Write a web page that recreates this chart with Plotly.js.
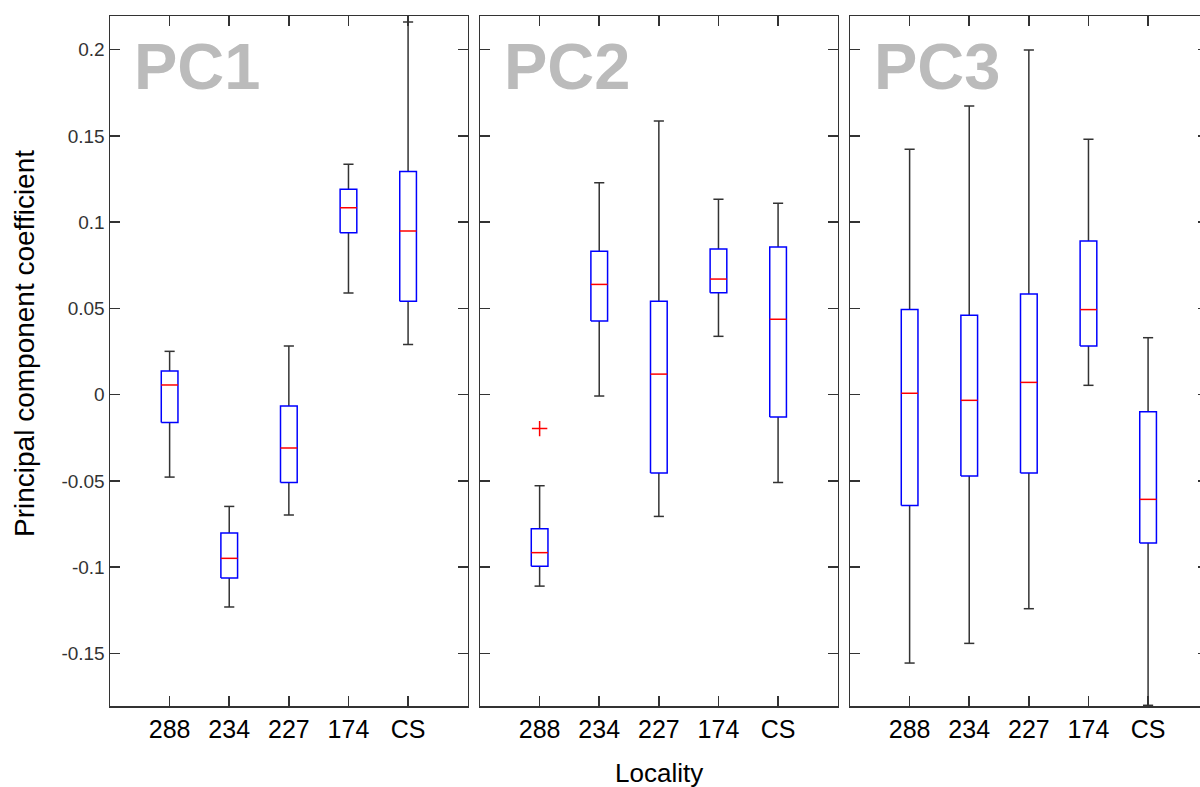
<!DOCTYPE html>
<html>
<head>
<meta charset="utf-8">
<script src="https://cdn.plot.ly/plotly-3.0.1.min.js"></script>
<style>
html, body { margin: 0; padding: 0; overflow: hidden; background: #fff; width: 1200px; height: 787px; }
#chart { width: 1220px; height: 787px; }
</style>
</head>
<body>
<div id="chart"></div>
<script>
// ---- data ----
const categories = ['288', '234', '227', '174', 'CS'];
const panelNames = ['PC1', 'PC2', 'PC3'];

const pc1Upper  = [0.0251, -0.0648, 0.0282, 0.1335, 0.2160];
const pc1Q3     = [0.0137, -0.0802, -0.0066, 0.1190, 0.1294];
const pc1Median = [0.0056, -0.0949, -0.0310, 0.1084, 0.0948];
const pc1Q1     = [-0.0162, -0.1063, -0.0510, 0.0939, 0.0541];
const pc1Lower  = [-0.0478, -0.1231, -0.0698, 0.0589, 0.0290];
const pc1OutCat = [];
const pc1OutVal = [];

const pc2Upper  = [-0.0528, 0.1229, 0.1586, 0.1132, 0.1109];
const pc2Q3     = [-0.0777, 0.0831, 0.0541, 0.0844, 0.0856];
const pc2Median = [-0.0916, 0.0639, 0.0119, 0.0670, 0.0437];
const pc2Q1     = [-0.0995, 0.0427, -0.0454, 0.0591, -0.0130];
const pc2Lower  = [-0.1110, -0.0008, -0.0706, 0.0338, -0.0510];
const pc2OutCat = ['288'];
const pc2OutVal = [-0.0197];

const pc3Upper  = [0.1422, 0.1673, 0.1998, 0.1480, 0.0330];
const pc3Q3     = [0.0493, 0.0460, 0.0583, 0.0890, -0.0099];
const pc3Median = [0.0008, -0.0033, 0.0071, 0.0493, -0.0607];
const pc3Q1     = [-0.0642, -0.0472, -0.0454, 0.0282, -0.0860];
const pc3Lower  = [-0.1556, -0.1442, -0.1241, 0.0054, -0.1801];
const pc3OutCat = [];
const pc3OutVal = [];

const yTickVals = [-0.15, -0.1, -0.05, 0, 0.05, 0.1, 0.15, 0.2];
const yTickText = ['-0.15', '-0.1', '-0.05', '0', '0.05', '0.1', '0.15', '0.2'];

const panels = [
  {up: pc1Upper, q3: pc1Q3, med: pc1Median, q1: pc1Q1, lo: pc1Lower, oc: pc1OutCat, ov: pc1OutVal},
  {up: pc2Upper, q3: pc2Q3, med: pc2Median, q1: pc2Q1, lo: pc2Lower, oc: pc2OutCat, ov: pc2OutVal},
  {up: pc3Upper, q3: pc3Q3, med: pc3Median, q1: pc3Q1, lo: pc3Lower, oc: pc3OutCat, ov: pc3OutVal}
];

// ---- styles ----
const BOX_HALF = 0.14;
const CAP_HALF = 0.085;
const whiskerColor = '#333333';
const boxColor = '#0000ff';
const medianColor = '#ff0000';

const traces = [];
panels.forEach((p, k) => {
  const xa = k === 0 ? 'x' : 'x' + (k + 1);
  const ya = k === 0 ? 'y' : 'y' + (k + 1);
  const wx = [], wy = [], bx = [], by = [], mx = [], my = [];
  categories.forEach((c, i) => {
    const pos = i + 1;
    // whiskers
    wx.push(pos, pos, null, pos, pos, null);
    wy.push(p.q3[i], p.up[i], null, p.q1[i], p.lo[i], null);
    // caps
    wx.push(pos - CAP_HALF, pos + CAP_HALF, null, pos - CAP_HALF, pos + CAP_HALF, null);
    wy.push(p.up[i], p.up[i], null, p.lo[i], p.lo[i], null);
    // box
    bx.push(pos - BOX_HALF, pos + BOX_HALF, pos + BOX_HALF, pos - BOX_HALF, pos - BOX_HALF, null);
    by.push(p.q1[i], p.q1[i], p.q3[i], p.q3[i], p.q1[i], null);
    // median
    mx.push(pos - BOX_HALF, pos + BOX_HALF, null);
    my.push(p.med[i], p.med[i], null);
  });
  const common = {type: 'scatter', mode: 'lines', xaxis: xa, yaxis: ya, hoverinfo: 'skip', showlegend: false, connectgaps: false};
  traces.push(Object.assign({}, common, {x: wx, y: wy, line: {color: whiskerColor, width: 1.5}}));
  traces.push(Object.assign({}, common, {x: bx, y: by, line: {color: boxColor, width: 1.5}}));
  traces.push(Object.assign({}, common, {x: mx, y: my, line: {color: medianColor, width: 1.5}}));
  if (p.oc.length) {
    traces.push({
      type: 'scatter', mode: 'markers', xaxis: xa, yaxis: ya, hoverinfo: 'skip', showlegend: false,
      x: p.oc.map(c => categories.indexOf(c) + 1), y: p.ov,
      marker: {symbol: 'cross-thin', size: 11, color: medianColor, line: {color: medianColor, width: 1.5}}
    });
  }
});

// ---- layout ----
const W = 1220, H = 787;
const mL = 110, mR = 12, mT = 16, mB = 81;
const plotW = W - mL - mR;
function px2dom(a, b) { return [(a - mL) / plotW, (b - mL) / plotW]; }

const xBase = {
  range: [0, 6], tickmode: 'array', tickvals: [1, 2, 3, 4, 5], ticktext: categories,
  ticks: 'inside', ticklen: 10, tickwidth: 1.5, tickcolor: '#333',
  showline: true, linecolor: '#333', linewidth: 1.5, mirror: 'ticks',
  showgrid: false, zeroline: false, fixedrange: true,
  tickfont: {family: 'Arial, "Liberation Sans", sans-serif', size: 25, color: '#000'}
};
const yBase = {
  range: [-0.1805, 0.2195], tickmode: 'array', tickvals: yTickVals, ticktext: yTickText,
  ticks: 'inside', ticklen: 10, tickwidth: 1.5, tickcolor: '#333',
  showline: true, linecolor: '#333', linewidth: 1.5, mirror: 'ticks',
  showgrid: false, zeroline: false, fixedrange: true,
  tickfont: {family: '"Liberation Sans Narrow", "Arial Narrow", Arial, sans-serif', size: 19, color: '#333'}
};

const layout = {
  width: W, height: H,
  margin: {l: mL, r: mR, t: mT, b: mB},
  paper_bgcolor: '#fff', plot_bgcolor: '#fff',
  xaxis:  Object.assign({}, xBase, {domain: px2dom(110, 467.7), anchor: 'y'}),
  xaxis2: Object.assign({}, xBase, {domain: px2dom(480, 837.7), anchor: 'y2'}),
  xaxis3: Object.assign({}, xBase, {domain: px2dom(850, 1207.7), anchor: 'y3'}),
  yaxis:  Object.assign({}, yBase, {anchor: 'x'}),
  yaxis2: Object.assign({}, yBase, {anchor: 'x2', showticklabels: false}),
  yaxis3: Object.assign({}, yBase, {anchor: 'x3', showticklabels: false}),
  annotations: [
    {text: 'Principal component coefficient', xref: 'paper', yref: 'paper',
     x: (25 - mL) / plotW, y: (706 - 344) / 690, textangle: -90, showarrow: false,
     xanchor: 'center', yanchor: 'middle',
     font: {family: 'Arial, "Liberation Sans", sans-serif', size: 28, color: '#000'}},
    {text: 'Locality', xref: 'paper', yref: 'paper',
     x: (658.5 - mL) / plotW, y: (706 - 773) / 690, showarrow: false,
     xanchor: 'center', yanchor: 'middle',
     font: {family: 'Arial, "Liberation Sans", sans-serif', size: 26, color: '#000'}}
  ].concat(panelNames.map((name, k) => ({
    text: '<b>' + name + '</b>', xref: k === 0 ? 'x' : 'x' + (k + 1), yref: 'y',
    x: 0.37, y: 0.19, xanchor: 'left', yanchor: 'middle', showarrow: false,
    font: {family: 'Arial, "Liberation Sans", sans-serif', size: 65, color: '#bbbbbb'}
  })))
};

Plotly.newPlot('chart', traces, layout, {staticPlot: true, displayModeBar: false});
</script>
</body>
</html>
